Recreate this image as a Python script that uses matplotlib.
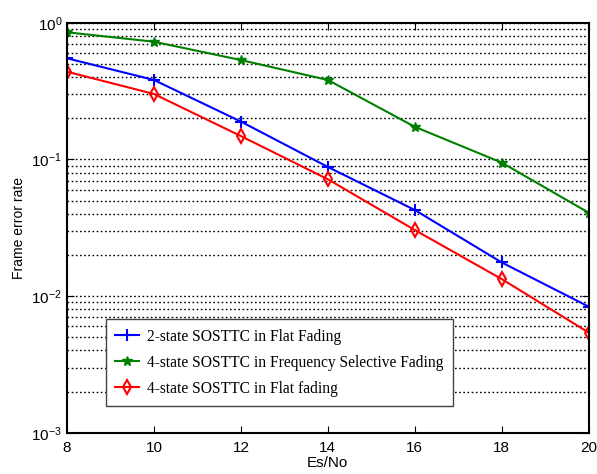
import numpy as np
import matplotlib
matplotlib.use('Agg')
import matplotlib.pyplot as plt
from matplotlib.ticker import LogLocator, NullFormatter

plt.rcParams['font.family'] = ['Liberation Sans', 'DejaVu Sans']
plt.rcParams['mathtext.default'] = 'regular'

es_no = [8, 10, 12, 14, 16, 18, 20]
fer_2state_flat = [0.549, 0.381, 0.189, 0.088, 0.0426, 0.0176, 0.00836]
fer_4state_freqsel = [0.851, 0.726, 0.533, 0.381, 0.173, 0.0946, 0.0407]
fer_4state_flat = [0.438, 0.301, 0.148, 0.0715, 0.0304, 0.0133, 0.0054]

labels = ['2-state SOSTTC in Flat Fading',
          '4-state SOSTTC in Frequency Selective Fading',
          '4-state SOSTTC in Flat fading']

fig = plt.figure(figsize=(5.97, 4.74), dpi=100)
ax = fig.add_axes([0.1122, 0.0871, 0.874, 0.865])

ax.semilogy(es_no, fer_2state_flat, color='#0000ff', lw=1.5, marker='+',
            ms=8, mew=1.5, label=labels[0])
ax.semilogy(es_no, fer_4state_freqsel, color='#008000', lw=1.5, marker='*',
            ms=7, mew=1.0, label=labels[1])
ax.semilogy(es_no, fer_4state_flat, color='#ff0000', lw=1.5, marker='d',
            ms=7, mew=1.5, mfc='none', label=labels[2])

ax.set_xlim(8, 20)
ax.set_ylim(1e-3, 1)
ax.set_xticks(es_no)
ax.yaxis.set_major_locator(LogLocator(base=10))
ax.yaxis.set_minor_locator(LogLocator(base=10, subs=np.arange(2, 10)))
ax.yaxis.set_minor_formatter(NullFormatter())

ax.grid(True, which='both', axis='y', color='black', linestyle=(0, (1.2, 1.8)), lw=1.0)
ax.tick_params(which='both', direction='in', top=True, right=True, labelsize=11)
ax.tick_params(which='major', length=5)
ax.tick_params(axis='x', pad=6)
ax.tick_params(which='minor', length=0)
for sp in ax.spines.values():
    sp.set_linewidth(1.5)

ax.set_xlabel('Es/No', fontsize=11, labelpad=1)
ax.set_ylabel('Frame error rate', fontsize=10, labelpad=4)

leg = ax.legend(loc='lower left', bbox_to_anchor=(0.0748, 0.065), borderaxespad=0,
                fancybox=False, framealpha=1, edgecolor='#444444', borderpad=0.6,
                labelspacing=0.65, handlelength=1.5, handletextpad=0.55,
                prop={'family': 'Liberation Serif', 'size': 11.2})
leg.get_frame().set_linewidth(1.0)

fig.savefig('out.png', dpi=100)
